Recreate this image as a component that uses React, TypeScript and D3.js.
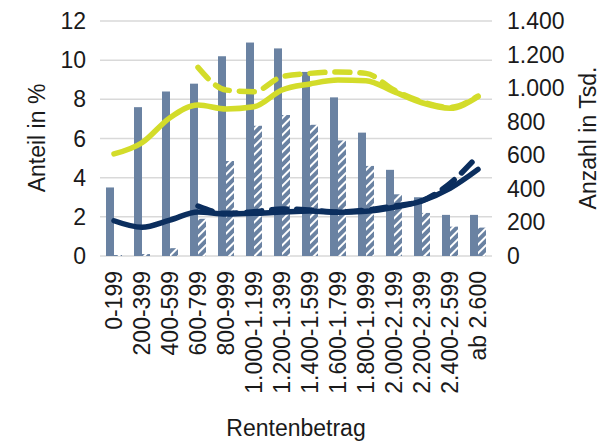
import React from "react";
import * as d3 from "d3";

const categories = ["0-199","200-399","400-599","600-799","800-999","1.000-1.199","1.200-1.399","1.400-1.599","1.600-1.799","1.800-1.999","2.000-2.199","2.200-2.399","2.400-2.599","ab 2.600"];
const shareA = [3.5,7.6,8.4,8.8,10.2,10.9,10.6,9.4,8.1,6.3,4.4,3.0,2.1,2.1];
const shareB = [0.05,0.1,0.4,1.9,4.85,6.65,7.2,6.7,5.9,4.6,3.15,2.2,1.5,1.45];
const countYellowSolid = [608,675,824,900,876,889,989,1025,1048,1044,979,913,880,949];
const countYellowDashed = [null,null,null,1124,989,979,1068,1088,1096,1088,989,919,886,953];
const countNavySolid = [210,171,214,262,250,254,262,268,260,266,290,329,403,516];
const countNavyDashed = [null,null,null,298,254,264,280,274,262,274,298,329,433,597];
const leftTicks = [0,2,4,6,8,10,12];
const rightTicks = [0,200,400,600,800,1000,1200,1400];

const W = 606, H = 441;
const X0 = 100, X1 = 492, Y0 = 256, Y1 = 21;
const FONT = "'Liberation Sans', Arial, sans-serif";
const FS = 23;
const BAR = "#6a82a2";
const YEL = "#d3dc2a";
const NAVY = "#0b2e5e";

export default function App() {
  const x = d3.scaleBand<string>().domain(categories).range([X0, X1]);
  const yL = d3.scaleLinear().domain([0, 12]).range([Y0, Y1]);
  const yR = d3.scaleLinear().domain([0, 1400]).range([Y0, Y1]);
  const bw = 8;
  const fmt = (v: number) => d3.format(",")(v).replace(/,/g, ".");
  const mkLine = (arr: (number | null)[]) =>
    d3.line<number | null>()
      .defined((d) => d !== null)
      .x((_, i) => (x(categories[i]) as number) + x.bandwidth() / 2)
      .y((d) => yR(d as number))
      .curve(d3.curveMonotoneX)(arr) || "";

  return (
    <svg width={W} height={H} style={{ position: "absolute", left: 0, top: 0, display: "block", background: "#fff" }} fontFamily={FONT}>
      <defs>
        <pattern id="hatch" patternUnits="userSpaceOnUse" width="6" height="6" patternTransform="rotate(45)">
          <rect width="6" height="6" fill={BAR} />
          <rect x="0" y="0" width="2" height="6" fill="#ffffff" />
        </pattern>
      </defs>
      {leftTicks.map((t) => (
        <line key={t} x1={X0} x2={X1} y1={yL(t)} y2={yL(t)} stroke="#d9d9d9" strokeWidth={1.5} />
      ))}
      {leftTicks.map((t) => (
        <text key={"l" + t} x={86} y={yL(t)} dy="0.35em" textAnchor="end" fontSize={FS} fill="#1a1a1a">{t}</text>
      ))}
      {rightTicks.map((t) => (
        <text key={"r" + t} x={507} y={yR(t)} dy="0.35em" textAnchor="start" fontSize={FS} fill="#1a1a1a">{fmt(t)}</text>
      ))}
      {categories.map((c, i) => {
        const cx = (x(c) as number) + x.bandwidth() / 2;
        return (
          <g key={c}>
            <rect x={cx - bw} y={yL(shareA[i])} width={bw} height={Y0 - yL(shareA[i])} fill={BAR} />
            <rect x={cx} y={yL(shareB[i])} width={bw} height={Y0 - yL(shareB[i])} fill="url(#hatch)" />
            <text transform={`translate(${cx},271) rotate(-90)`} dy="0.35em" textAnchor="end" fontSize={FS} fill="#1a1a1a">{c}</text>
          </g>
        );
      })}
      <path d={mkLine(countYellowSolid)} fill="none" stroke={YEL} strokeWidth={5.5} strokeLinejoin="round" strokeLinecap="round" />
      <path d={mkLine(countYellowDashed)} fill="none" stroke={YEL} strokeWidth={5.5} strokeDasharray="15 10" strokeLinecap="round" />
      <path d={mkLine(countNavySolid)} fill="none" stroke={NAVY} strokeWidth={5.5} strokeLinejoin="round" strokeLinecap="round" />
      <path d={mkLine(countNavyDashed)} fill="none" stroke={NAVY} strokeWidth={5.5} strokeDasharray="15 10" strokeLinecap="round" />
      <text transform={`translate(37,138) rotate(-90)`} dy="0.35em" textAnchor="middle" fontSize={FS} fill="#1a1a1a">Anteil in %</text>
      <text transform={`translate(588,138) rotate(-90)`} dy="0.35em" textAnchor="middle" fontSize={FS} fill="#1a1a1a">Anzahl in Tsd.</text>
      <text x={296} y={428} dy="0.35em" textAnchor="middle" fontSize={FS} fill="#1a1a1a">Rentenbetrag</text>
    </svg>
  );
}
